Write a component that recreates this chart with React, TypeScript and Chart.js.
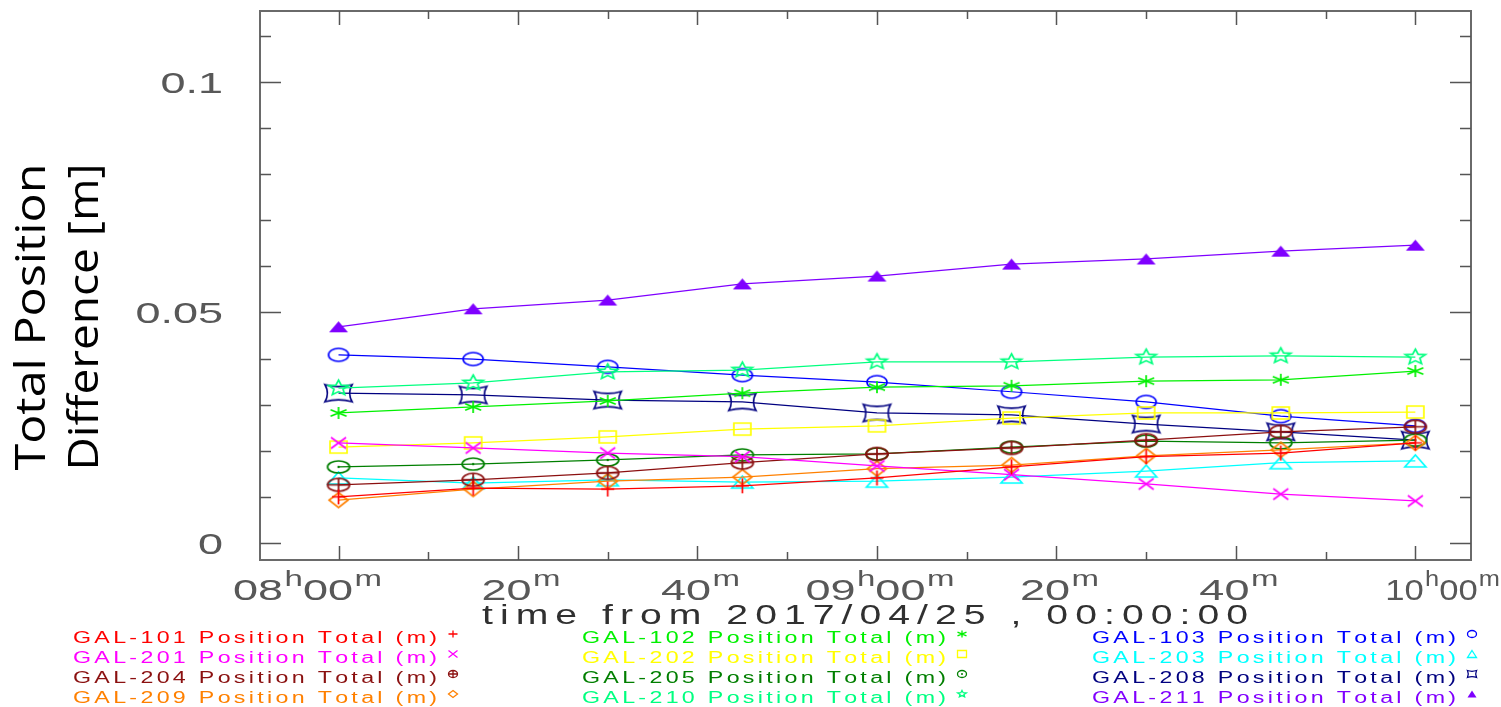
import React, { useEffect, useRef } from "react";
import { Chart, registerables } from "chart.js";

Chart.register(...registerables);

// ---------------- data ----------------
const times = ["08:00", "08:15", "08:30", "08:45", "09:00", "09:15", "09:30", "09:45", "10:00"];

const gal101 = [0.0100, 0.0119, 0.0117, 0.0124, 0.0141, 0.0165, 0.0187, 0.0195, 0.0217];
const gal201 = [0.0217, 0.0206, 0.0195, 0.0187, 0.0167, 0.0148, 0.0128, 0.0106, 0.0091];
const gal204 = [0.0126, 0.0137, 0.0152, 0.0174, 0.0193, 0.0206, 0.0223, 0.0241, 0.0252];
const gal209 = [0.0093, 0.0117, 0.0134, 0.0143, 0.0161, 0.0169, 0.0189, 0.0202, 0.0217];
const gal102 = [0.0282, 0.0295, 0.0308, 0.0325, 0.0338, 0.0341, 0.0351, 0.0354, 0.0373];
const gal202 = [0.0208, 0.0217, 0.0230, 0.0247, 0.0254, 0.0271, 0.0282, 0.0282, 0.0284];
const gal205 = [0.0165, 0.0171, 0.0180, 0.0191, 0.0193, 0.0208, 0.0221, 0.0217, 0.0223];
const gal210 = [0.0336, 0.0347, 0.0371, 0.0375, 0.0393, 0.0393, 0.0403, 0.0406, 0.0403];
const gal103 = [0.0408, 0.0399, 0.0382, 0.0364, 0.0349, 0.0328, 0.0306, 0.0275, 0.0254];
const gal203 = [0.0141, 0.0130, 0.0137, 0.0132, 0.0134, 0.0143, 0.0156, 0.0174, 0.0178];
const gal208 = [0.0325, 0.0321, 0.0310, 0.0306, 0.0282, 0.0278, 0.0258, 0.0241, 0.0223];
const gal211 = [0.0469, 0.0508, 0.0527, 0.0562, 0.0579, 0.0605, 0.0616, 0.0633, 0.0646];

const seriesNames = [
  "GAL-101", "GAL-201", "GAL-204", "GAL-209",
  "GAL-102", "GAL-202", "GAL-205", "GAL-210",
  "GAL-103", "GAL-203", "GAL-208", "GAL-211",
];
const seriesValues = [
  gal101, gal201, gal204, gal209,
  gal102, gal202, gal205, gal210,
  gal103, gal203, gal208, gal211,
];
const legendSuffix = " Position Total (m)";

// axis ranges (minutes from midnight / metres)
const xRange = [471.25, 606.2];
const yRange = [-0.0037, 0.1154];
const xMajorTicks = [480, 500, 520, 540, 560, 580, 600];
const xTickLabels = ["08h00m", "20m", "40m", "09h00m", "20m", "40m", "10h00m"];
const yTickValues = [0, 0.05, 0.1];
const yTickLabels = ["0", "0.05", "0.1"];
const xTitle = "time from 2017/04/25 , 00:00:00";
const yTitleLines = ["Total Position", "Difference [m]"];

// ---------------- styles ----------------
type Shape =
  | "plus" | "cross" | "asterisk" | "circle" | "square" | "triangle"
  | "triangleFilled" | "circlePlus" | "circleDot" | "diamond" | "star" | "concave";

const seriesStyles: { color: string; shape: Shape; w: number; h: number }[] = [
  { color: "#ff0000", shape: "plus", w: 13, h: 15 },
  { color: "#ff00ff", shape: "cross", w: 15, h: 11 },
  { color: "#8b1010", shape: "circlePlus", w: 22, h: 13 },
  { color: "#ff8000", shape: "diamond", w: 19, h: 15 },
  { color: "#00f000", shape: "asterisk", w: 16, h: 12 },
  { color: "#ffff00", shape: "square", w: 17, h: 12 },
  { color: "#007f00", shape: "circleDot", w: 22, h: 12 },
  { color: "#00ff7f", shape: "star", w: 21, h: 16 },
  { color: "#0000ff", shape: "circle", w: 20, h: 13 },
  { color: "#00ffff", shape: "triangle", w: 21, h: 12 },
  { color: "#000080", shape: "concave", w: 27, h: 17 },
  { color: "#7f00ff", shape: "triangleFilled", w: 19, h: 11 },
];

function toMinutes(t: string) {
  const [h, m] = t.split(":").map((s) => parseInt(s, 10));
  return h * 60 + m;
}

function drawShape(
  ctx: CanvasRenderingContext2D, shape: Shape, cx: number, cy: number,
  w: number, h: number, color: string, lw: number
) {
  const rx = w / 2, ry = h / 2;
  ctx.save();
  ctx.strokeStyle = color;
  ctx.fillStyle = color;
  ctx.lineWidth = lw;
  ctx.lineJoin = "miter";
  ctx.beginPath();
  switch (shape) {
    case "plus":
      ctx.moveTo(cx - rx, cy); ctx.lineTo(cx + rx, cy);
      ctx.moveTo(cx, cy - ry); ctx.lineTo(cx, cy + ry);
      ctx.stroke();
      break;
    case "cross":
      ctx.moveTo(cx - rx, cy - ry); ctx.lineTo(cx + rx, cy + ry);
      ctx.moveTo(cx + rx, cy - ry); ctx.lineTo(cx - rx, cy + ry);
      ctx.stroke();
      break;
    case "asterisk":
      ctx.moveTo(cx, cy - ry); ctx.lineTo(cx, cy + ry);
      ctx.moveTo(cx - rx, cy - ry * 0.55); ctx.lineTo(cx + rx, cy + ry * 0.55);
      ctx.moveTo(cx + rx, cy - ry * 0.55); ctx.lineTo(cx - rx, cy + ry * 0.55);
      ctx.stroke();
      break;
    case "circle":
      ctx.ellipse(cx, cy, rx, ry, 0, 0, Math.PI * 2);
      ctx.stroke();
      break;
    case "circlePlus":
      ctx.ellipse(cx, cy, rx, ry, 0, 0, Math.PI * 2);
      ctx.moveTo(cx - rx, cy); ctx.lineTo(cx + rx, cy);
      ctx.moveTo(cx, cy - ry); ctx.lineTo(cx, cy + ry);
      ctx.stroke();
      break;
    case "circleDot":
      ctx.ellipse(cx, cy, rx, ry, 0, 0, Math.PI * 2);
      ctx.stroke();
      ctx.beginPath();
      ctx.arc(cx, cy, Math.max(1, lw * 0.7), 0, Math.PI * 2);
      ctx.fill();
      break;
    case "square":
      ctx.rect(cx - rx, cy - ry, w, h);
      ctx.stroke();
      break;
    case "triangle":
      ctx.moveTo(cx, cy - ry); ctx.lineTo(cx + rx, cy + ry); ctx.lineTo(cx - rx, cy + ry);
      ctx.closePath();
      ctx.stroke();
      break;
    case "triangleFilled":
      ctx.moveTo(cx, cy - ry); ctx.lineTo(cx + rx, cy + ry); ctx.lineTo(cx - rx, cy + ry);
      ctx.closePath();
      ctx.fill();
      break;
    case "diamond":
      ctx.moveTo(cx, cy - ry); ctx.lineTo(cx + rx, cy); ctx.lineTo(cx, cy + ry); ctx.lineTo(cx - rx, cy);
      ctx.closePath();
      ctx.stroke();
      break;
    case "star": {
      for (let i = 0; i < 10; i++) {
        const a = -Math.PI / 2 + (i * Math.PI) / 5;
        const k = i % 2 === 0 ? 1 : 0.45;
        const px = cx + Math.cos(a) * rx * k;
        const py = cy + Math.sin(a) * ry * k;
        if (i === 0) ctx.moveTo(px, py); else ctx.lineTo(px, py);
      }
      ctx.closePath();
      ctx.stroke();
      break;
    }
    case "concave": {
      const l = cx - rx, r = cx + rx, t = cy - ry, b = cy + ry;
      ctx.moveTo(l, t);
      ctx.quadraticCurveTo(cx, t + ry * 0.45, r, t);
      ctx.quadraticCurveTo(r - rx * 0.35, cy, r, b);
      ctx.quadraticCurveTo(cx, b - ry * 0.45, l, b);
      ctx.quadraticCurveTo(l + rx * 0.35, cy, l, t);
      ctx.closePath();
      ctx.stroke();
      break;
    }
  }
  ctx.restore();
}

function makeMarker(shape: Shape, color: string, w: number, h: number) {
  const c = document.createElement("canvas");
  c.width = Math.ceil(w + 6);
  c.height = Math.ceil(h + 6);
  const ctx = c.getContext("2d")!;
  drawShape(ctx, shape, c.width / 2, c.height / 2, w, h, color, 1.7);
  return c;
}

// draws text glyph by glyph with horizontal stretch sx and extra spacing ls
function drawSpaced(
  ctx: CanvasRenderingContext2D, text: string, x: number, y: number,
  font: string, sx: number, ls: number, align: "left" | "center" | "right", color: string
) {
  ctx.save();
  ctx.font = font;
  ctx.fillStyle = color;
  const chars = [...text];
  const widths = chars.map((c) => ctx.measureText(c).width);
  const total = (widths.reduce((a, b) => a + b, 0) + ls * (chars.length - 1)) * sx;
  const start = align === "center" ? x - total / 2 : align === "right" ? x - total : x;
  ctx.translate(start, y);
  ctx.scale(sx, 1);
  ctx.textAlign = "left";
  ctx.textBaseline = "alphabetic";
  let cx = 0;
  chars.forEach((c, i) => {
    ctx.fillText(c, cx, 0);
    cx += widths[i] + ls;
  });
  ctx.restore();
  return total;
}

function fitSpaced(
  ctx: CanvasRenderingContext2D, text: string, x: number, y: number,
  font: string, sx: number, target: number, color: string
) {
  ctx.save();
  ctx.font = font;
  const chars = [...text];
  const sum = chars.reduce((a, c) => a + ctx.measureText(c).width, 0);
  ctx.restore();
  const ls = (target / sx - sum) / (chars.length - 1);
  drawSpaced(ctx, text, x, y, font, sx, ls, "left", color);
}

const TICK_FONT = "30px 'Liberation Sans', Arial, sans-serif";
const SUP_FONT = "22px 'Liberation Sans', Arial, sans-serif";
const LEGEND_FONT = "16px 'Liberation Sans', Arial, sans-serif";
const TITLE_FONT = "27px 'Liberation Sans', Arial, sans-serif";
const YTITLE_FONT = "42px 'Open Sans', 'Noto Sans', sans-serif";
const TICK_COLOR = "#585858";

// time label with superscript h / m; if fitWidth given the label is squeezed to that width
function drawTimeLabel(
  ctx: CanvasRenderingContext2D, label: string, anchorX: number, baseline: number,
  align: "center" | "left", fitWidth?: number
) {
  let sx = 1.5;
  ctx.save();
  const parts = [...label].map((c) => {
    const sup = c === "h" || c === "m";
    ctx.font = sup ? SUP_FONT : TICK_FONT;
    return { c, sup, w: ctx.measureText(c).width };
  });
  const raw = parts.reduce((a, p) => a + p.w + (p.sup ? 1 : 0), 0);
  if (fitWidth) sx = fitWidth / raw;
  const total = raw * sx;
  let x = align === "center" ? anchorX - total / 2 : anchorX;
  ctx.fillStyle = TICK_COLOR;
  ctx.textAlign = "left";
  ctx.textBaseline = "alphabetic";
  parts.forEach((p) => {
    ctx.save();
    ctx.font = p.sup ? SUP_FONT : TICK_FONT;
    ctx.translate(x + (p.sup ? sx : 0), p.sup ? baseline - 14 : baseline);
    ctx.scale(sx, 1);
    ctx.fillText(p.c, 0, 0);
    ctx.restore();
    x += (p.w + (p.sup ? 1 : 0)) * sx;
  });
  ctx.restore();
}

const framePlugin = {
  id: "idlFrame",
  afterDraw(chart: any) {
    const ctx: CanvasRenderingContext2D = chart.ctx;
    const { left, right, top, bottom } = chart.chartArea;
    const xs = chart.scales.x;
    const ys = chart.scales.y;

    ctx.save();
    // frame
    ctx.strokeStyle = "#6a6a6a";
    ctx.lineWidth = 2;
    ctx.strokeRect(left, top, right - left, bottom - top);

    // x ticks (top & bottom, inward)
    ctx.lineWidth = 1.5;
    ctx.strokeStyle = "#555555";
    for (let v = xMajorTicks[0]; v <= xMajorTicks[xMajorTicks.length - 1]; v += 10) {
      const px = Math.round(xs.getPixelForValue(v)) + 0.5;
      const len = (v - xMajorTicks[0]) % 20 === 0 ? 14 : 8;
      ctx.beginPath();
      ctx.moveTo(px, bottom); ctx.lineTo(px, bottom - len);
      ctx.moveTo(px, top); ctx.lineTo(px, top + len);
      ctx.stroke();
    }
    // y ticks (left & right, inward)
    for (let k = 0; k <= 11; k++) {
      const py = Math.round(ys.getPixelForValue(k / 100)) + 0.5;
      if (py < top || py > bottom) continue;
      const len = k % 5 === 0 ? 21 : 11;
      ctx.beginPath();
      ctx.moveTo(left, py); ctx.lineTo(left + len, py);
      ctx.moveTo(right, py); ctx.lineTo(right - len, py);
      ctx.stroke();
    }
    ctx.restore();

    // y tick labels
    yTickValues.forEach((v, i) => {
      const py = ys.getPixelForValue(v);
      drawSpaced(ctx, yTickLabels[i], 223, py + 11, TICK_FONT, 1.5, 0, "right", TICK_COLOR);
    });

    // x tick labels (edge labels shifted as in the original)
    xMajorTicks.forEach((v, i) => {
      const px = xs.getPixelForValue(v);
      if (i === 0) drawTimeLabel(ctx, xTickLabels[i], px - 31, 600, "center");
      else if (i === xMajorTicks.length - 1)
        drawTimeLabel(ctx, xTickLabels[i], px - 30, 600, "left", chart.width - 1 - (px - 30));
      else drawTimeLabel(ctx, xTickLabels[i], px + 3, 600, "center");
    });

    // x title
    fitSpaced(ctx, xTitle, 482, 624, TITLE_FONT, 1.45, 766, "#303030");

    // y title (rotated)
    const yBase = [45, 98];
    yTitleLines.forEach((line, i) => {
      ctx.save();
      ctx.translate(yBase[i], 317);
      ctx.rotate(-Math.PI / 2);
      ctx.font = YTITLE_FONT;
      const w0 = ctx.measureText(line).width;
      drawSpaced(ctx, line, 0, 0, YTITLE_FONT, 307 / w0, 0, "center", "#000000");
      ctx.restore();
    });

    // legend: 3 columns x 4 rows
    const colLeft = [73, 582, 1092];
    const rowBase = [643, 663, 683, 703];
    seriesNames.forEach((name, i) => {
      const col = Math.floor(i / 4);
      const row = i % 4;
      const st = seriesStyles[i];
      fitSpaced(ctx, name + legendSuffix, colLeft[col], rowBase[row], LEGEND_FONT, 1.45, 364, st.color);
      drawShape(ctx, st.shape, colLeft[col] + 364 + 16, rowBase[row] - 9, 9, 7, st.color, 1.3);
    });
  },
};

export default function App() {
  const ref = useRef<HTMLCanvasElement>(null);

  useEffect(() => {
    document.body.style.margin = "0";
    const canvas = ref.current!;
    const xs = times.map(toMinutes);
    const datasets = seriesNames.map((name, i) => {
      const st = seriesStyles[i];
      return {
        label: name + legendSuffix,
        data: seriesValues[i].map((y, j) => ({ x: xs[j], y })),
        borderColor: st.color,
        backgroundColor: st.color,
        borderWidth: 1.25,
        tension: 0,
        pointStyle: makeMarker(st.shape, st.color, st.w, st.h) as any,
        pointRadius: 8,
        pointHoverRadius: 8,
      };
    });

    const chart = new Chart(canvas, {
      type: "line",
      data: { datasets },
      options: {
        animation: false,
        responsive: false,
        devicePixelRatio: 1,
        events: [],
        layout: { padding: { left: 260, top: 11, right: 30, bottom: 147 } },
        plugins: {
          legend: { display: false },
          tooltip: { enabled: false },
          title: { display: false },
        },
        scales: {
          x: { type: "linear", min: xRange[0], max: xRange[1], display: false },
          y: { type: "linear", min: yRange[0], max: yRange[1], display: false },
        },
      },
      plugins: [framePlugin],
    });
    return () => chart.destroy();
  }, []);

  return (
    <div style={{ position: "absolute", left: 0, top: 0, width: 1501, height: 707, background: "#fff" }}>
      <canvas ref={ref} width={1501} height={707} style={{ display: "block" }} />
    </div>
  );
}
